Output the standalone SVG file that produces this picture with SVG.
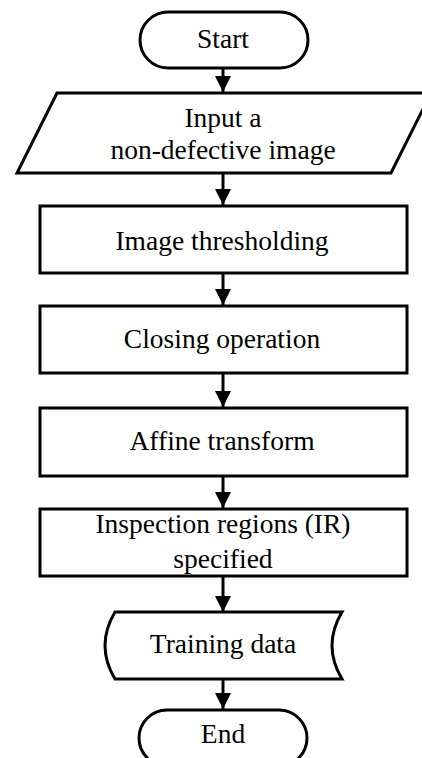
<svg xmlns="http://www.w3.org/2000/svg" width="422" height="758" viewBox="0 0 422 758">
<style>
.s{fill:#fff;stroke:#000;stroke-width:3;stroke-linejoin:miter}
.t{font-family:"Liberation Serif","Times New Roman",serif;font-size:27.5px;fill:#000;text-anchor:middle}
.c{stroke:#000;stroke-width:3;fill:none}
</style>
<defs>
<marker id="ah" markerUnits="userSpaceOnUse" markerWidth="18" markerHeight="16" refX="16" refY="8" orient="auto" viewBox="0 0 18 16">
<polygon points="0,0 16,8 0,16" fill="#000"/>
</marker>
</defs>
<rect width="422" height="758" fill="#fff"/>
<g id="connectors">
<line class="c" x1="223" y1="68" x2="223" y2="92" marker-end="url(#ah)"/>
<line class="c" x1="223" y1="173" x2="223" y2="205" marker-end="url(#ah)"/>
<line class="c" x1="223" y1="273" x2="223" y2="305" marker-end="url(#ah)"/>
<line class="c" x1="223" y1="373" x2="223" y2="407" marker-end="url(#ah)"/>
<line class="c" x1="223" y1="476" x2="223" y2="508" marker-end="url(#ah)"/>
<line class="c" x1="223" y1="576" x2="223" y2="612" marker-end="url(#ah)"/>
<line class="c" x1="223" y1="679" x2="223" y2="709" marker-end="url(#ah)"/>
</g>
<g id="start">
<rect class="s" x="140" y="12" width="168" height="56" rx="28" ry="28"/>
<text class="t" x="223" y="48">Start</text>
</g>
<g id="input">
<polygon class="s" points="57,93 431,93 391,173 17,173"/>
<text class="t" x="223" y="127">Input a</text>
<text class="t" x="223" y="159">non-defective image</text>
</g>
<g id="threshold">
<rect class="s" x="40" y="206" width="367" height="67"/>
<text class="t" x="222" y="250">Image thresholding</text>
</g>
<g id="closing">
<rect class="s" x="40" y="306" width="367" height="67"/>
<text class="t" x="222" y="348">Closing operation</text>
</g>
<g id="affine">
<rect class="s" x="40" y="408" width="367" height="68"/>
<text class="t" x="222" y="450">Affine transform</text>
</g>
<g id="ir">
<rect class="s" x="40" y="509" width="367" height="67"/>
<text class="t" x="223" y="533">Inspection regions (IR)</text>
<text class="t" x="223" y="568">specified</text>
</g>
<g id="training">
<path class="s" d="M115,612 L342,612 Q322,645.5 342,679 L115,679 Q95,645.5 115,612 Z"/>
<text class="t" x="223" y="653">Training data</text>
</g>
<g id="end">
<rect class="s" x="139" y="710" width="168" height="56" rx="28" ry="28"/>
<text class="t" x="223" y="743">End</text>
</g>
</svg>
